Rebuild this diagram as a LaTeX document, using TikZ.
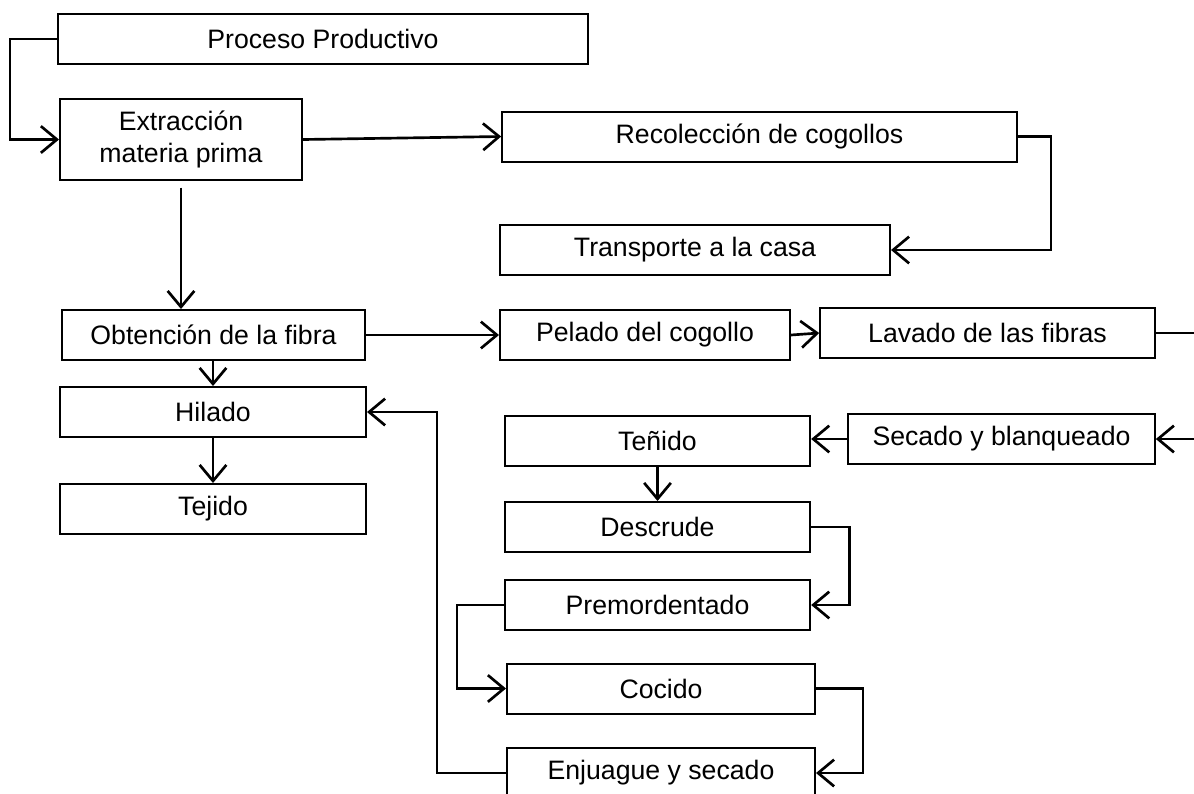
\documentclass[tikz,border=0pt]{standalone}
\usepackage{fontspec}
\setmainfont{Liberation Sans}
\usetikzlibrary{arrows.meta, positioning}

\begin{document}
\begin{tikzpicture}[x=0.75pt, y=-0.75pt]
        % Define styles
        \tikzset{
            caja/.style={draw, line width=1.5pt, minimum height=37.5pt, inner sep=0pt, align=center, font=\fontsize{20}{24}\selectfont},
            flecha/.style={-{Straight Barb[length=12pt,width=20pt]}, line width=2pt},
            linea/.style={line width=2pt}
        }
        \useasboundingbox (0,0) rectangle (1194,793);
        % Main column
        \node[caja, minimum width=397.5pt] (proceso) at (323,39) {Proceso Productivo};
        \node[caja, minimum width=181.5pt, minimum height=60.75pt] (extraccion) at (181,139.5) {Extracción\\materia prima};
        \node[caja, minimum width=227pt] (obtencion) at (213.5,335) {Obtención de la fibra};
        \node[caja, minimum width=229.5pt] (hilado) at (213,412) {Hilado};
        \node[caja, minimum width=229.5pt] (tejido) at (213,509) {Tejido};
        % Raw material branch
        \node[caja, minimum width=386pt] (recoleccion) at (759.5,136.5) {Recolección de cogollos};
        \node[caja, minimum width=292.5pt] (transporte) at (695,250) {Transporte a la casa};
        % Fibre branch
        \node[caja, minimum width=217.5pt] (pelado) at (645,335) {Pelado del cogollo};
        \node[caja, minimum width=251pt] (lavado) at (987.5,333) {Lavado de las fibras};
        \node[caja, minimum width=230pt] (secado) at (1001.5,439) {Secado y blanqueado};
        \node[caja, minimum width=229pt] (tenido) at (657.5,441) {Teñido};
        \node[caja, minimum width=229pt] (descrude) at (657.5,527) {Descrude};
        \node[caja, minimum width=229pt] (premordentado) at (657.5,605) {Premordentado};
        \node[caja, minimum width=231pt] (cocido) at (661,688.5) {Cocido};
        \node[caja, minimum width=231pt] (enjuague) at (661,773) {Enjuague y secado};
        % Free ends at the right border
        \coordinate (borde1) at (1196,333);
        \coordinate (borde2) at (1196,439);
        % Connectors
        \draw[flecha] (proceso.west) -- (10,39) |- (extraccion.west);
        \draw[flecha] (extraccion.east) -- (recoleccion.west);
        \draw[flecha] (recoleccion.east) -- ++(33,0) |- (transporte.east);
        \draw[flecha] ([yshift=-5pt]extraccion.south) -- (extraccion.south |- obtencion.north);
        \draw[flecha] (obtencion.east) -- (pelado.west);
        \draw[flecha] (pelado.east) -- (lavado.west);
        \draw[linea] (lavado.east) -- (borde1);
        \draw[flecha] (borde2) -- (secado.east);
        \draw[flecha] (secado.west) -- (secado.west -| tenido.east);
        \draw[flecha] (obtencion.south -| hilado.north) -- (hilado.north);
        \draw[flecha] (hilado.south) -- (tejido.north);
        \draw[flecha] (tenido.south) -- (descrude.north);
        \draw[flecha] (descrude.east) -- ++(38,0) |- (premordentado.east);
        \draw[flecha] (premordentado.west) -- ++(-47,0) |- (cocido.west);
        \draw[flecha] (cocido.east) -- ++(47,0) |- (enjuague.east);
        \draw[flecha] (enjuague.west) -- (437,773) |- (hilado.east);
    \end{tikzpicture}
\end{document}
